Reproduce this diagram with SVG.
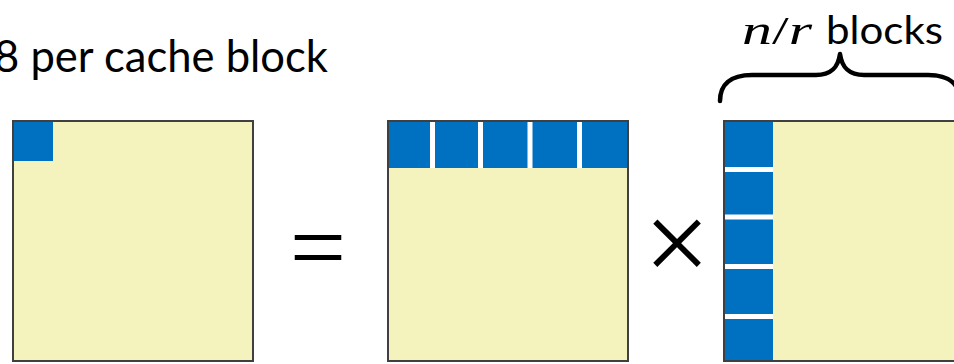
<svg xmlns="http://www.w3.org/2000/svg" width="954" height="364" viewBox="0 0 954 364">
  <style>
    .mat { fill: #F4F3BE; }
    .frame { fill: none; stroke: #404040; stroke-width: 2; }
    .blk { fill: #0070C0; }
    .gap { fill: #FFFFFF; }
    .lbl { font-family: Lato, "Liberation Sans", sans-serif; fill: #000000; }
    .math { font-family: "Liberation Serif", "DejaVu Serif", serif; font-style: italic; fill: #000000; }
    .op { font-family: "Liberation Serif", "DejaVu Serif", serif; fill: #000000; }
  </style>

  <!-- caption over the left matrix -->
  <g id="caption-left">
    <text class="lbl" x="-6" y="72" font-size="44" textLength="334" lengthAdjust="spacingAndGlyphs">8 per cache block</text>
  </g>

  <!-- result matrix C with one cached block -->
  <g id="matrix-c">
    <rect class="mat" x="13" y="121" width="240" height="240"/>
    <rect class="blk" x="13" y="121" width="40" height="40"/>
    <rect class="frame" x="13" y="121" width="240" height="240"/>
  </g>

  <!-- equals sign -->
  <g id="op-equals">
    <text class="op" x="318" y="281" font-size="100" text-anchor="middle">=</text>
  </g>

  <!-- matrix A: top row split into blocks -->
  <g id="matrix-a">
    <rect class="mat" x="388" y="121" width="240" height="240"/>
    <rect class="blk" x="388" y="121" width="240" height="47"/>
    <rect class="gap" x="430" y="121" width="5" height="47"/>
    <rect class="gap" x="478" y="121" width="5" height="47"/>
    <rect class="gap" x="527.5" y="121" width="5" height="47"/>
    <rect class="gap" x="577" y="121" width="5" height="47"/>
    <rect class="frame" x="388" y="121" width="240" height="240"/>
  </g>

  <!-- times sign -->
  <g id="op-times">
    <text class="op" x="677" y="282" font-size="117" text-anchor="middle">×</text>
  </g>

  <!-- matrix B: left column split into blocks -->
  <g id="matrix-b">
    <rect class="mat" x="724" y="121" width="240" height="240"/>
    <rect class="blk" x="724" y="121" width="49" height="240"/>
    <rect class="gap" x="724" y="167" width="49" height="5"/>
    <rect class="gap" x="724" y="214.5" width="49" height="5"/>
    <rect class="gap" x="724" y="264" width="49" height="5"/>
    <rect class="gap" x="724" y="314" width="49" height="5"/>
    <rect class="frame" x="724" y="121" width="240" height="240"/>
  </g>

  <!-- brace and count label over matrix B -->
  <g id="brace-label">
    <path d="M 720,101 C 720,85 730,75 752,75 L 816,75 C 831,75 838,68 840,54 C 842,68 849,75 864,75 L 928,75 C 950,75 960,85 960,101" fill="none" stroke="#000000" stroke-width="4.5" stroke-linecap="round" stroke-linejoin="round"/>
    <text x="742" y="44" font-size="40" textLength="70" lengthAdjust="spacingAndGlyphs"><tspan class="math">n</tspan><tspan class="op">/</tspan><tspan class="math">r</tspan></text>
    <text class="lbl" x="826" y="44" font-size="38" textLength="117" lengthAdjust="spacingAndGlyphs">blocks</text>
  </g>
</svg>
